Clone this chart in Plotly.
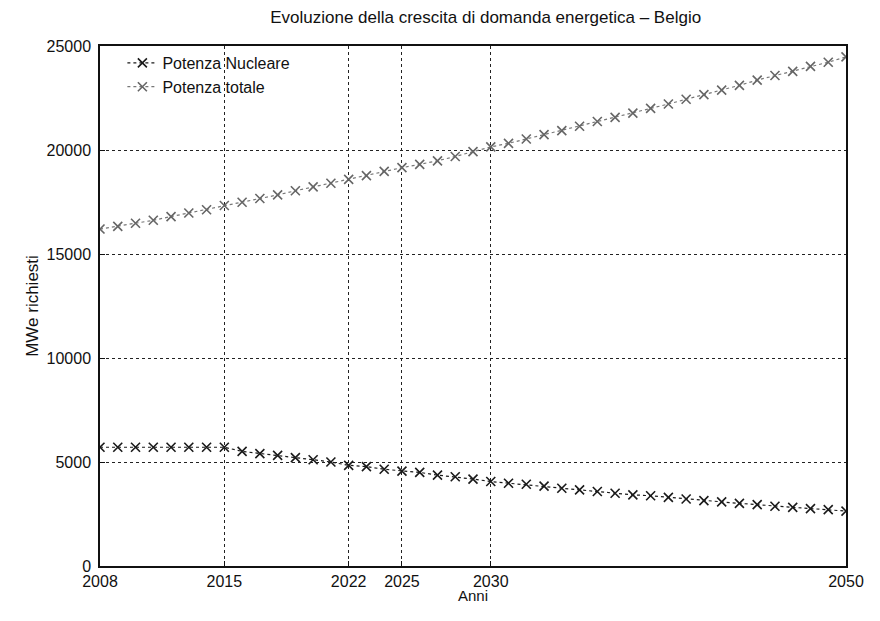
import plotly.graph_objects as go

years = list(range(2008, 2051))

nucleare = [5710, 5710, 5710, 5710, 5710, 5710, 5710, 5710,
            5510, 5400, 5320, 5210, 5110, 5000, 4840, 4780, 4650, 4560,
            4500, 4370, 4290, 4180, 4060, 3980, 3930, 3840, 3740, 3660,
            3580, 3500, 3420, 3380, 3300, 3220, 3140, 3080, 3010, 2950,
            2870, 2820, 2760, 2710, 2640]

totale = [16200, 16330, 16480, 16620, 16800, 16970, 17130, 17330,
          17490, 17670, 17840, 18040, 18230, 18400, 18590, 18770, 18970,
          19150, 19310, 19480, 19690, 19920, 20150, 20320, 20530, 20740,
          20930, 21140, 21370, 21570, 21770, 22000, 22210, 22440, 22660,
          22880, 23110, 23360, 23580, 23780, 24020, 24220, 24480]

x_ticks = [2008, 2015, 2022, 2025, 2030, 2050]
y_ticks = [0, 5000, 10000, 15000, 20000, 25000]

FONT = "Liberation Sans, Arial, sans-serif"

fig = go.Figure()
fig.add_trace(go.Scatter(
    x=years, y=nucleare, name="Potenza Nucleare", mode="lines+markers",
    line=dict(color="#1a1a1a", width=1.2, dash="dot"),
    marker=dict(symbol="x-thin", size=9, line=dict(color="#1a1a1a", width=1.6)),
))
fig.add_trace(go.Scatter(
    x=years, y=totale, name="Potenza totale", mode="lines+markers",
    line=dict(color="#777777", width=1.2, dash="dot"),
    marker=dict(symbol="x-thin", size=9, line=dict(color="#666666", width=1.6)),
))

fig.update_layout(
    width=856, height=596,
    paper_bgcolor="white", plot_bgcolor="white",
    margin=dict(l=92, r=18, t=38, b=38),
    font=dict(family=FONT, size=16, color="#111111"),
    title=dict(text="Evoluzione della crescita di domanda energetica \u2013 Belgio",
               x=0.558, xanchor="center", y=0.984, yanchor="middle",
               font=dict(family=FONT, size=17, color="#111111")),
    showlegend=True,
    legend=dict(x=0.03, y=1.0, xanchor="left", yanchor="top",
                bgcolor="rgba(0,0,0,0)", borderwidth=0,
                font=dict(family=FONT, size=16, color="#111111"),
                itemwidth=30, tracegroupgap=0),
)

fig.update_xaxes(
    range=[2008, 2050], tickmode="array", tickvals=x_ticks,
    ticktext=[str(v) for v in x_ticks],
    showgrid=True, gridcolor="#222222", griddash="dot", gridwidth=1,
    showline=True, linecolor="#111111", linewidth=1.5, mirror=True,
    ticks="inside", ticklen=5, tickcolor="#111111",
    zeroline=False, automargin=False,
    title=dict(text="Anni", standoff=6, font=dict(family=FONT, size=15)),
    tickfont=dict(family=FONT, size=16),
)
fig.update_yaxes(
    range=[0, 25000], tickmode="array", tickvals=y_ticks,
    ticktext=[str(v) for v in y_ticks],
    showgrid=True, gridcolor="#222222", griddash="dot", gridwidth=1,
    showline=True, linecolor="#111111", linewidth=1.5, mirror=True,
    ticks="inside", ticklen=5, tickcolor="#111111",
    zeroline=False, ticklabelstandoff=4, automargin=False,
    title=dict(text="MWe richiesti", standoff=4, font=dict(family=FONT, size=17)),
    tickfont=dict(family=FONT, size=16),
)

fig.write_html("out.html")
